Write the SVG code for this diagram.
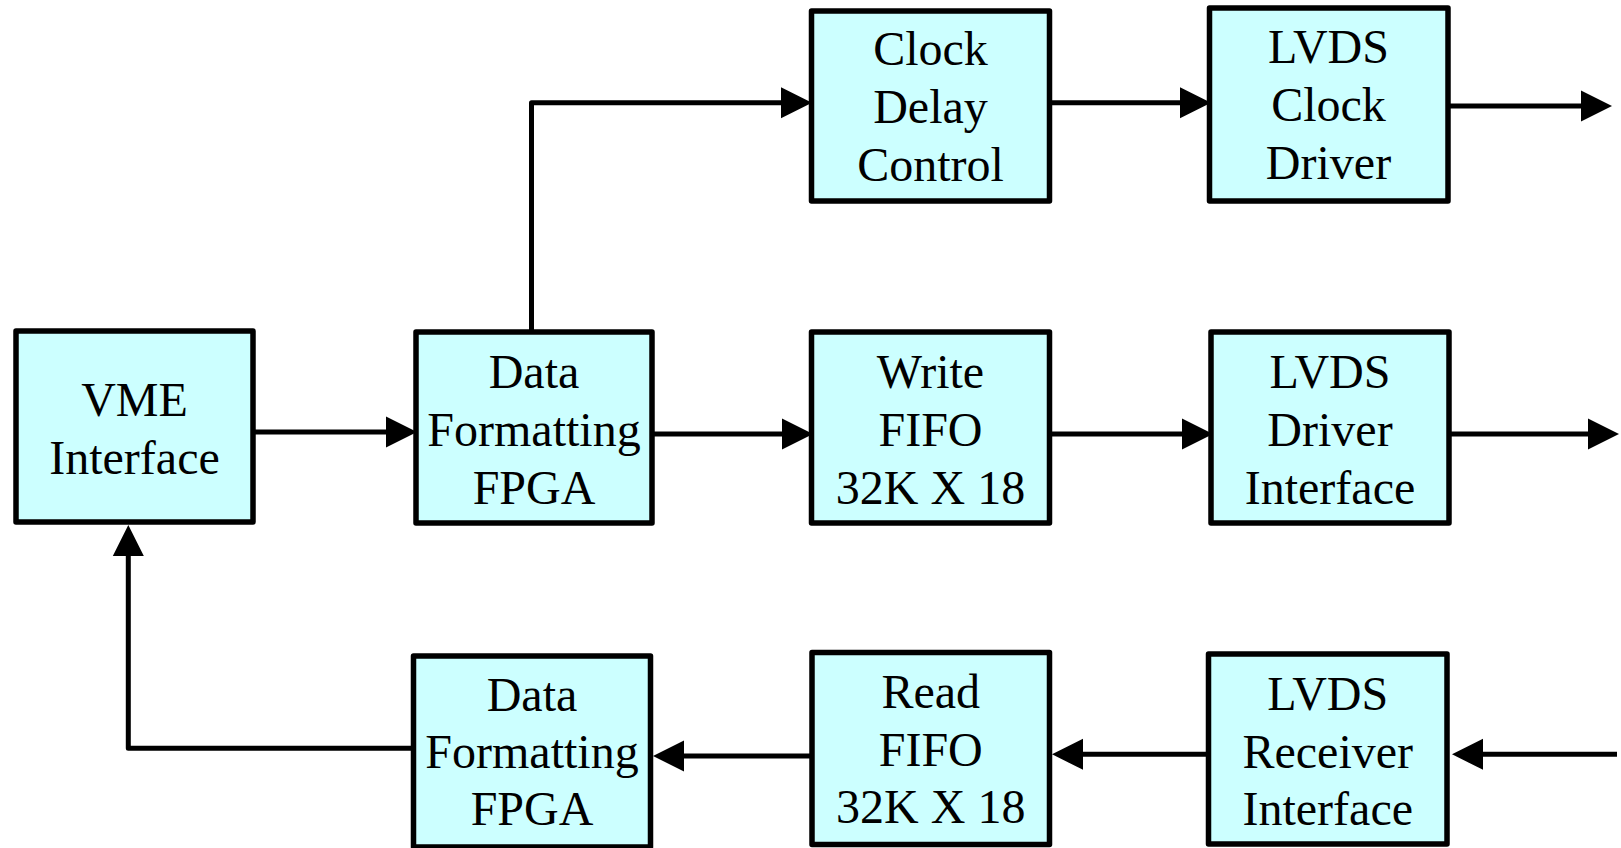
<svg xmlns="http://www.w3.org/2000/svg" width="1621" height="848" viewBox="0 0 1621 848">
<style>
.box{fill:#CCFFFF;stroke:#000;stroke-width:5.5;stroke-linejoin:round}
.lbl{font-family:"Liberation Serif","Times New Roman",serif;font-size:48px;fill:#000;text-anchor:middle}
.wire{fill:none;stroke:#000;stroke-width:5;stroke-linejoin:round;stroke-linecap:butt}
</style>
<defs>
<marker id="ah" markerUnits="userSpaceOnUse" markerWidth="31" markerHeight="31" refX="0" refY="15.5" orient="auto" overflow="visible">
<path d="M0,0 L31,15.5 L0,31 Z" fill="#000"/>
</marker>
</defs>
<rect width="1621" height="848" fill="#fff"/>
<g id="connectors">
<path class="wire" d="M253,432 H386" marker-end="url(#ah)"/>
<path class="wire" d="M531.5,332 V102.7 H781" marker-end="url(#ah)"/>
<path class="wire" d="M651,434 H782" marker-end="url(#ah)"/>
<path class="wire" d="M1049,434 H1182" marker-end="url(#ah)"/>
<path class="wire" d="M1449,434 H1588" marker-end="url(#ah)"/>
<path class="wire" d="M1049,102.7 H1180" marker-end="url(#ah)"/>
<path class="wire" d="M1448,106 H1581" marker-end="url(#ah)"/>
<path class="wire" d="M1617,754.3 H1483" marker-end="url(#ah)"/>
<path class="wire" d="M1208,754.3 H1083" marker-end="url(#ah)"/>
<path class="wire" d="M812,756 H684" marker-end="url(#ah)"/>
<path class="wire" d="M413.5,748.3 H128.3 V556" marker-end="url(#ah)"/>
</g>
<g id="vme">
<rect class="box" x="16" y="331" width="237" height="191"/>
<text class="lbl" x="134.5" y="416">VME</text>
<text class="lbl" x="134.5" y="473.5">Interface</text>
</g>
<g id="fpga-top">
<rect class="box" x="416" y="332" width="236" height="191"/>
<text class="lbl" x="534" y="388">Data</text>
<text class="lbl" x="534" y="446">Formatting</text>
<text class="lbl" x="534" y="503.5">FPGA</text>
</g>
<g id="clock-delay">
<rect class="box" x="811.5" y="11" width="238" height="190"/>
<text class="lbl" x="930.5" y="65">Clock</text>
<text class="lbl" x="930.5" y="123">Delay</text>
<text class="lbl" x="930.5" y="181">Control</text>
</g>
<g id="lvds-clock">
<rect class="box" x="1209.5" y="8" width="238.5" height="193"/>
<text class="lbl" x="1328.5" y="63">LVDS</text>
<text class="lbl" x="1328.5" y="121">Clock</text>
<text class="lbl" x="1328.5" y="179">Driver</text>
</g>
<g id="write-fifo">
<rect class="box" x="811.5" y="332" width="238" height="191"/>
<text class="lbl" x="930.5" y="388">Write</text>
<text class="lbl" x="930.5" y="446">FIFO</text>
<text class="lbl" x="930.5" y="503.5">32K X 18</text>
</g>
<g id="lvds-driver">
<rect class="box" x="1211" y="332" width="238" height="191"/>
<text class="lbl" x="1330" y="388">LVDS</text>
<text class="lbl" x="1330" y="446">Driver</text>
<text class="lbl" x="1330" y="503.5">Interface</text>
</g>
<g id="fpga-bottom">
<rect class="box" x="413.5" y="656" width="237" height="191"/>
<text class="lbl" x="532" y="710.5">Data</text>
<text class="lbl" x="532" y="768">Formatting</text>
<text class="lbl" x="532" y="825">FPGA</text>
</g>
<g id="read-fifo">
<rect class="box" x="812" y="652.5" width="237.5" height="192"/>
<text class="lbl" x="930.75" y="708">Read</text>
<text class="lbl" x="930.75" y="766">FIFO</text>
<text class="lbl" x="930.75" y="823">32K X 18</text>
</g>
<g id="lvds-receiver">
<rect class="box" x="1208.5" y="654" width="238.5" height="190"/>
<text class="lbl" x="1327.75" y="710">LVDS</text>
<text class="lbl" x="1327.75" y="768">Receiver</text>
<text class="lbl" x="1327.75" y="825">Interface</text>
</g>
</svg>
